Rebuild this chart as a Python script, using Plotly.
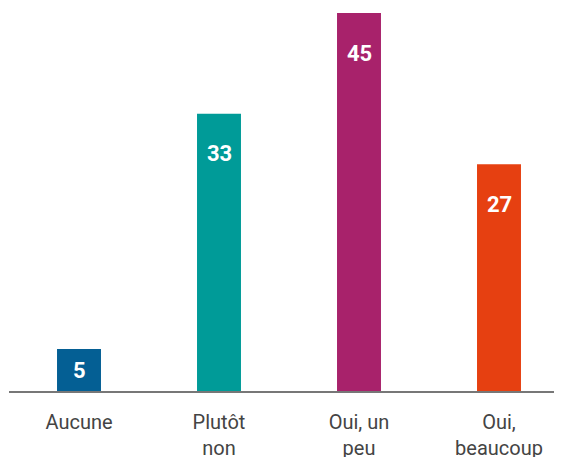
import plotly.graph_objects as go

categories = ["Aucune", "Plutôt<br>non", "Oui, un<br>peu", "Oui,<br>beaucoup"]
values = [5, 33, 45, 27]
colors = ["#045f94", "#009b98", "#a8226b", "#e64011"]

PX_PER_UNIT = 8.4
PLOT_H = 383
FIG_H = 449
fig = go.Figure()
fig.add_trace(go.Bar(
    x=list(range(len(values))), y=values, marker=dict(color=colors, line=dict(width=0)),
    width=0.314, hoverinfo="skip",
))
for i, v in enumerate(values):
    fig.add_annotation(
        x=i, y=v, text=f"<b>{v}</b>", showarrow=False, yanchor="middle",
        yshift=-min(40, v * PX_PER_UNIT / 2),
        font=dict(family="Roboto", size=22, color="white"),
    )

fig.update_layout(
    width=554, height=FIG_H,
    margin=dict(l=1, r=0, t=0, b=FIG_H - PLOT_H),
    plot_bgcolor="white", paper_bgcolor="white",
    showlegend=False,
    xaxis=dict(
        tickmode="array", tickvals=list(range(len(values))), ticktext=categories,
        range=[-0.5, 3.45], showgrid=False, zeroline=False,
        showline=True, linecolor="#777777", linewidth=2,
        ticks="", ticklabelstandoff=12, automargin=False,
        tickfont=dict(family="Roboto", size=20, color="#444444"),
        fixedrange=True,
    ),
    yaxis=dict(range=[0, PLOT_H / PX_PER_UNIT], visible=False, fixedrange=True,
               automargin=False),
)
fig.write_html("out.html", config=dict(displayModeBar=False))
